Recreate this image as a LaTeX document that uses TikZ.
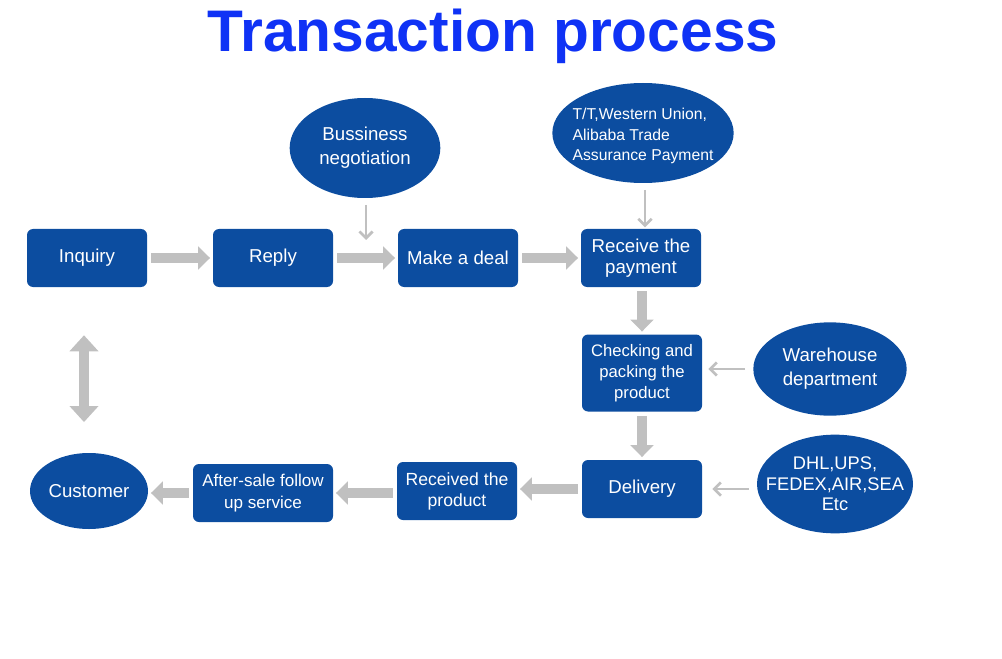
\documentclass[tikz,border=0pt]{standalone}
\usepackage{fontspec}
\setmainfont{Liberation Sans}
\usetikzlibrary{arrows.meta,shapes.geometric,calc}
\definecolor{boxblue}{RGB}{12,77,160}
\definecolor{titleblue}{RGB}{15,50,245}
\definecolor{arrgray}{RGB}{192,192,192}
\tikzset{
  stepbox/.style={draw=none,fill=boxblue,rounded corners=4.5pt,text=white,align=center,
    minimum width=90pt,minimum height=43.5pt,inner sep=0pt,font=\fontsize{14}{15.75}\selectfont},
  oval/.style={ellipse,draw=none,fill=boxblue,inner sep=0pt},
  ovaltext/.style={text=white,align=center,inner sep=0pt,font=\fontsize{14}{18}\selectfont},
  bigarrow/.style={draw=arrgray,line width=7.5pt,-{Triangle[length=9pt,width=17pt]},
    shorten <=3pt,shorten >=2pt},
  thinarrow/.style={draw=arrgray,line width=2pt,-{Straight Barb[length=5pt,width=10pt]}},
}
\begin{document}
\begin{tikzpicture}[x=0.75pt,y=-0.75pt]
\useasboundingbox (0,0) rectangle (1002,659);
\node[text=titleblue,font=\fontsize{44}{50}\selectfont\bfseries] (title) at (493,36) {Transaction process};
% main row
\node[stepbox] (inq) at (87,258) {Inquiry};
\node[stepbox] (rep) at (273,258) {Reply};
\node[stepbox] (deal) at (458,258) {Make a deal};
\node[stepbox] (recv) at (641,258) {Receive the\\payment};
\node[stepbox,minimum height=57.75pt,font=\fontsize{12.5}{15.75}\selectfont] (chk) at (642,373) {Checking and\\packing the\\product};
\node[stepbox] (del) at (642,489) {Delivery};
\node[stepbox,font=\fontsize{13.2}{15.75}\selectfont] (rcvd) at (457,491) {Received the\\product};
\node[stepbox,minimum width=105pt,font=\fontsize{12.8}{16.5}\selectfont] (after) at (263,493) {After-sale follow\\up service};
\node[oval,minimum width=88.5pt,minimum height=57pt,
  label={[ovaltext]center:Customer}] (cust) at (89,491) {};
% ellipses
\node[oval,minimum width=113pt,minimum height=75pt,
  label={[ovaltext]center:{Bussiness\\negotiation}}] (neg) at (365,148) {};
\node[oval,minimum width=136pt,minimum height=75pt,
  label={[ovaltext,align=left,yshift=-2.5pt,font=\fontsize{11.8}{15.4}\selectfont]center:{T/T,Western Union,\\Alibaba Trade\\Assurance Payment}}] (tt) at (643,133) {};
\node[oval,minimum width=115pt,minimum height=70pt,
  label={[ovaltext]center:{Warehouse\\department}}] (wh) at (830,369) {};
\node[oval,minimum width=117pt,minimum height=74pt,
  label={[ovaltext,font=\fontsize{13.7}{15.4}\selectfont]center:{DHL,UPS,\\FEDEX,AIR,SEA\\Etc}}] (dhl) at (835,484) {};
\coordinate (negend) at (366,240);
\coordinate (dbl) at (84,0);
% thick arrows
\draw[bigarrow] (inq.east) -- (rep.west);
\draw[bigarrow] (rep.east) -- (deal.west);
\draw[bigarrow] (deal.east) -- (recv.west);
\draw[bigarrow] (recv.south -| chk.north) -- (chk.north);
\draw[bigarrow] (chk.south) -- (del.north);
\draw[bigarrow] (del.west) -- (del.west -| rcvd.east);
\draw[bigarrow] (rcvd.west |- after.east) -- (after.east);
\draw[bigarrow] (after.west) -- (after.west -| cust.east);
\draw[draw=arrgray,line width=8pt,{Triangle[length=12pt,width=21pt]}-{Triangle[length=12pt,width=21pt]},
  shorten <=36pt,shorten >=23pt] (inq.south -| dbl) -- (cust.north -| dbl);
% thin arrows
\draw[thinarrow,shorten <=5pt] (neg.south -| negend) -- (negend);
\draw[thinarrow,shorten <=5pt,shorten >=1pt] (tt.south -| 645,0) -- (recv.north -| 645,0);
\draw[thinarrow,shorten <=6pt,shorten >=4.5pt] (wh.west) -- (wh.west -| chk.east);
\draw[thinarrow,shorten <=6pt,shorten >=7.5pt] (del.east -| dhl.west) -- (del.east);
\end{tikzpicture}
\end{document}
